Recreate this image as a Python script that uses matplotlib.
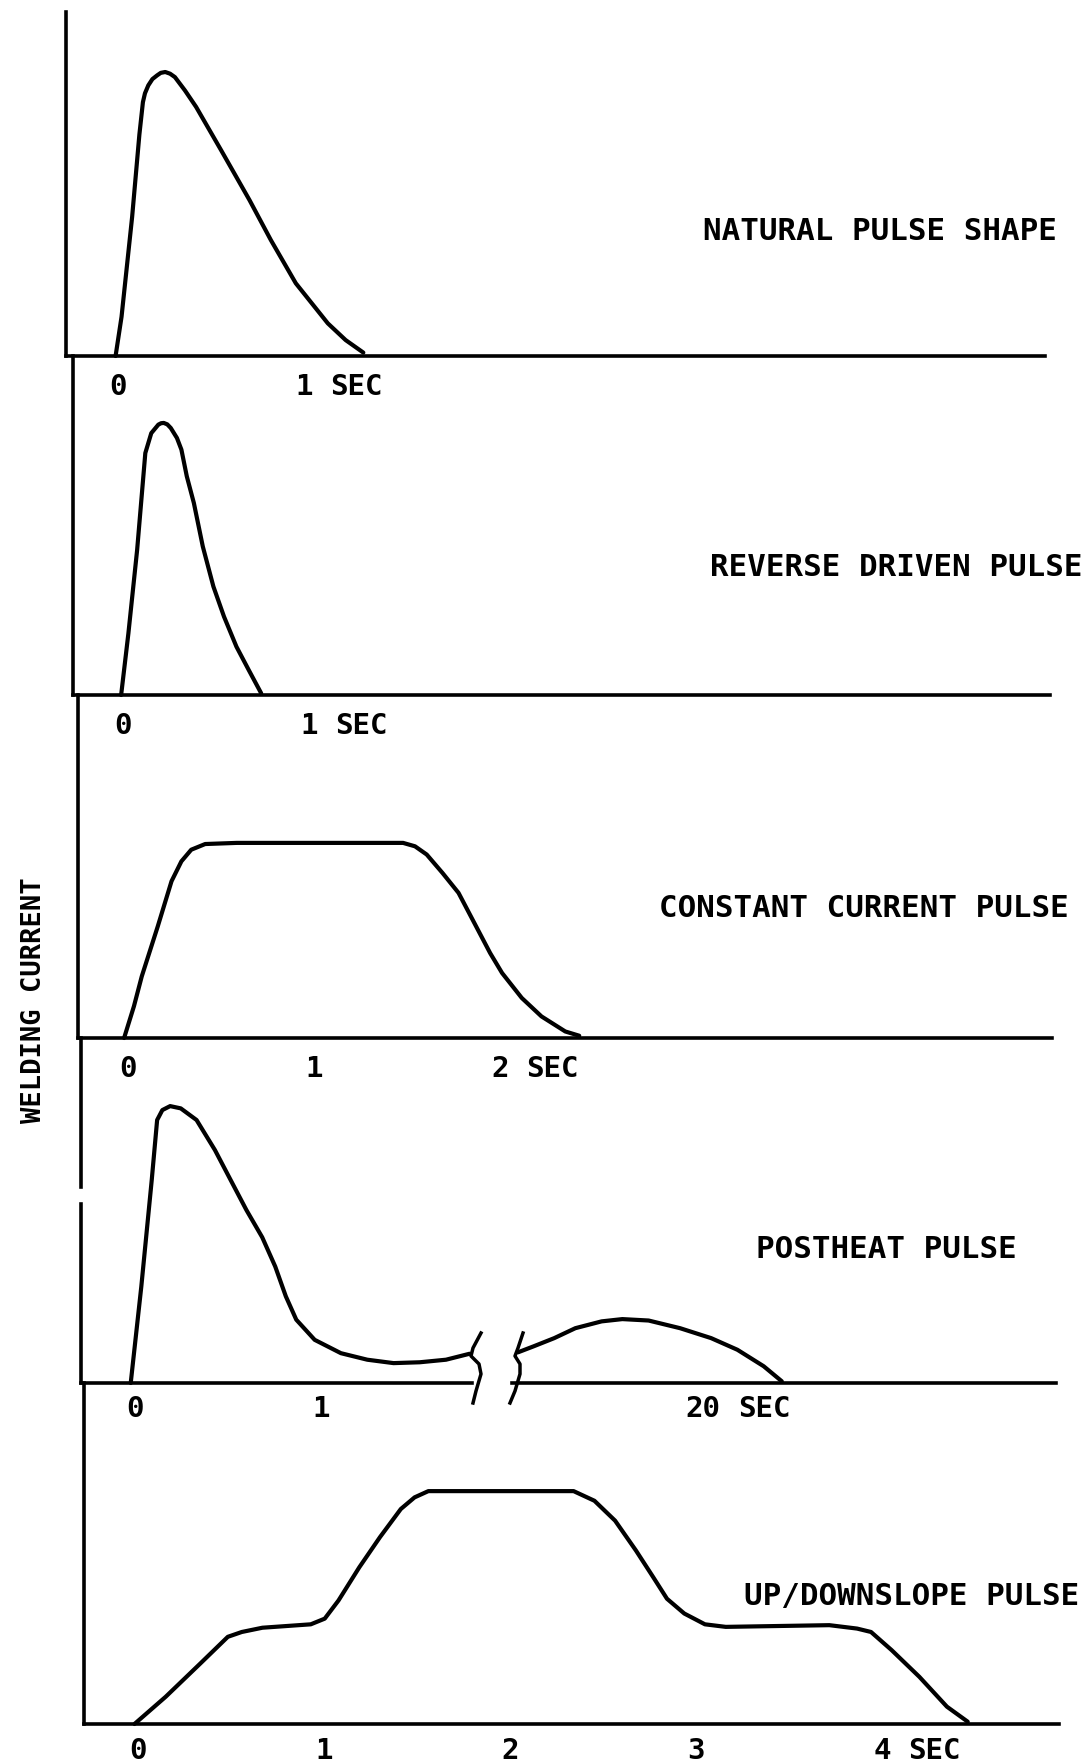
import matplotlib.pyplot as plt
from matplotlib.transforms import blended_transform_factory

# ---- data: time (s) and welding current (relative units, natural peak = 100)
nat_t = [-0.013, 0.019, 0.076, 0.115, 0.134, 0.145, 0.163, 0.185, 0.21, 0.23,
         0.254, 0.28, 0.306, 0.36, 0.42, 0.554, 0.707, 0.822, 0.956, 1.128,
         1.224, 1.319]
nat_i = [0, 13.8, 49, 78, 89.4, 92.5, 95.3, 97.5, 98.8, 99.7,
         100, 99.4, 98.2, 93.5, 87.7, 72.5, 54.9, 40.8, 25.6, 11.5,
         5.6, 1.2]

rev_t = [-0.01, 0.029, 0.076, 0.12, 0.152, 0.19, 0.205, 0.219, 0.238, 0.257,
         0.29, 0.314, 0.343, 0.381, 0.429, 0.486, 0.543, 0.61, 0.676, 0.743]
rev_i = [0, 21.7, 51.1, 85.2, 92.2, 95.2, 95.7, 95.8, 95.3, 94.0,
         90.5, 86.4, 77.0, 67.6, 52.3, 38.2, 27.6, 17.0, 8.8, 0.6]

const_t = [-0.021, 0.032, 0.074, 0.16, 0.234, 0.287, 0.34, 0.415, 0.585, 1.01,
           1.479, 1.543, 1.606, 1.691, 1.777, 1.862, 1.947, 2.011, 2.117, 2.223,
           2.351, 2.426]
const_i = [0, 11.2, 21.7, 39.3, 55.2, 62.2, 66.3, 68.3, 68.7, 68.7,
           68.7, 67.5, 64.6, 58.1, 51.1, 40.5, 29.9, 22.9, 14.1, 7.6,
           2.3, 0.8]

post_t = [-0.023, 0.034, 0.09, 0.119, 0.147, 0.189, 0.246, 0.331, 0.43, 0.514,
          0.599, 0.684, 0.754, 0.811, 0.867, 0.966, 1.107, 1.249, 1.39, 1.531,
          1.672, 1.799]
post_i = [0, 34.0, 71.5, 92.6, 96.1, 97.5, 96.7, 92.6, 82.0, 71.5,
          60.9, 51.3, 41.0, 30.5, 22.3, 15.2, 10.5, 8.2, 7.0, 7.3,
          8.2, 10.3]
# after the time break
post2_t = [15.0, 15.42, 15.98, 16.55, 17.26, 17.82, 18.53, 19.38, 20.22, 20.93,
           21.64, 22.13]
post2_i = [10.8, 12.9, 15.8, 19.3, 21.7, 22.5, 22.0, 19.3, 15.8, 11.7, 5.9, 0.6]

slope_t = [-0.019, 0.149, 0.335, 0.483, 0.558, 0.669, 0.929, 1.004, 1.078, 1.19,
           1.301, 1.413, 1.487, 1.561, 2.342, 2.454, 2.565, 2.677, 2.77, 2.844,
           2.937, 3.048, 3.16, 3.717, 3.866, 3.941, 4.052, 4.201, 4.349, 4.461]
slope_i = [0, 9.6, 21.3, 30.7, 32.4, 33.9, 35.1, 37.1, 43.5, 55.2,
           65.8, 75.7, 79.8, 82.0, 82.0, 78.6, 71.6, 61.1, 51.7, 44.1,
           38.9, 35.1, 34.2, 34.8, 33.6, 32.4, 26.0, 16.6, 6.1, 0.8]

titles = ["NATURAL PULSE SHAPE", "REVERSE DRIVEN PULSE", "CONSTANT CURRENT PULSE",
          "POSTHEAT PULSE", "UP/DOWNSLOPE PULSE"]
ticks = [[0, 1], [0, 1], [0, 1, 2], [0, 1], [0, 1, 2, 3, 4]]
ylabel = "WELDING CURRENT"

W, H = 1085, 1762
PX_PER_UNIT = 2.84
PX_PER_SEC = 186
FONT = dict(family='DejaVu Sans Mono', weight='bold')
LW = 3.0
SPINE_LW = 2.6

fig = plt.figure(figsize=(W / 100, H / 100), dpi=100)


def make_axes(left, top, right, bottom, x0, pps):
    ax = fig.add_axes([left / W, 1 - bottom / H, (right - left) / W, (bottom - top) / H])
    ax.set_xlim((left - x0) / pps, (right - x0) / pps)
    ax.set_ylim(0, (bottom - top) / PX_PER_UNIT)
    ax.patch.set_alpha(0)
    for s in ['top', 'right']:
        ax.spines[s].set_visible(False)
    for s in ['left', 'bottom']:
        ax.spines[s].set_linewidth(SPINE_LW)
    ax.set_yticks([])
    return ax


def set_ticks(ax, tk, pad, sec=True):
    ax.set_xticks(tk, [str(v) for v in tk], fontsize=21, **FONT)
    ax.tick_params(axis='x', length=0, pad=pad)
    if sec:
        off = len(str(tk[-1])) * 9 + 17
        ax.annotate('SEC', xy=(tk[-1], 0), xytext=(off, -pad * 100 / 72),
                    textcoords='offset pixels', ha='left', va='top',
                    fontsize=21, annotation_clip=False, **FONT)


def curve(ax, t, i):
    ax.plot(t, i, color='black', lw=LW, solid_capstyle='round',
            solid_joinstyle='round', clip_on=False)


# (left, top, right, bottom, zero position) in pixels, one per panel
panels = [(66, 12, 1045, 356, 118), (73, 356, 1050, 695, 123),
          (78, 695, 1052, 1038, 128), (81, 1038, 472, 1383, 135),
          (84, 1383, 1059, 1724, 138)]
series = [(nat_t, nat_i), (rev_t, rev_i), (const_t, const_i),
          (post_t, post_i), (slope_t, slope_i)]
pads = [12.2, 12.2, 12.5, 8.8, 9.4]

axes = []
for k, (rect, (t, i)) in enumerate(zip(panels, series)):
    ax = make_axes(*rect[:4], rect[4], PX_PER_SEC)
    curve(ax, t, i)
    set_ticks(ax, ticks[k], pads[k], sec=(k != 3))
    axes.append(ax)

# postheat: gap in the vertical axis line
ax4 = axes[3]
ax4.spines['left'].set_visible(False)
x_left = ax4.get_xlim()[0]
ax4.axvline(x_left, 0, 0.52, color='black', lw=SPINE_LW, clip_on=False)
ax4.axvline(x_left, 0.569, 1, color='black', lw=SPINE_LW, clip_on=False)

# postheat after the break (compressed time scale)
ax4b = make_axes(512, 1038, 1056, 1383, 703, 37)
ax4b.set_xlim((512 - 703) / 37 + 20, (1056 - 703) / 37 + 20)
ax4b.spines['left'].set_visible(False)
curve(ax4b, post2_t, post2_i)
set_ticks(ax4b, [20], pads[3])

# break marks
brk_y = [v / PX_PER_UNIT for v in [50, 35, 27, 19, 9, -8, -20]]
for ax, edge, dx in [(ax4, 1.0, [9, 1, -1, 7, 9, 4, 1]),
                     (ax4b, 0.0, [11, 6, 3, 8, 8, 3, -2])]:
    wpx = ax.get_position().width * W
    tr = blended_transform_factory(ax.transAxes, ax.transData)
    ax.plot([edge + d / wpx for d in dx], brk_y, color='black', lw=2.5,
            solid_joinstyle='round', transform=tr, clip_on=False)

# pulse names
title_pos = [(703, 231), (710, 567), (659, 908), (756, 1250), (744, 1597)]
for txt, (x, y) in zip(titles, title_pos):
    fig.text(x / W, 1 - y / H, txt, ha='left', va='center', fontsize=22.2, **FONT)

fig.text(34 / W, 1 - 1000 / H, ylabel, rotation=90, ha='center', va='center',
         fontsize=19.5, **FONT)

fig.savefig('out.png', dpi=100)
